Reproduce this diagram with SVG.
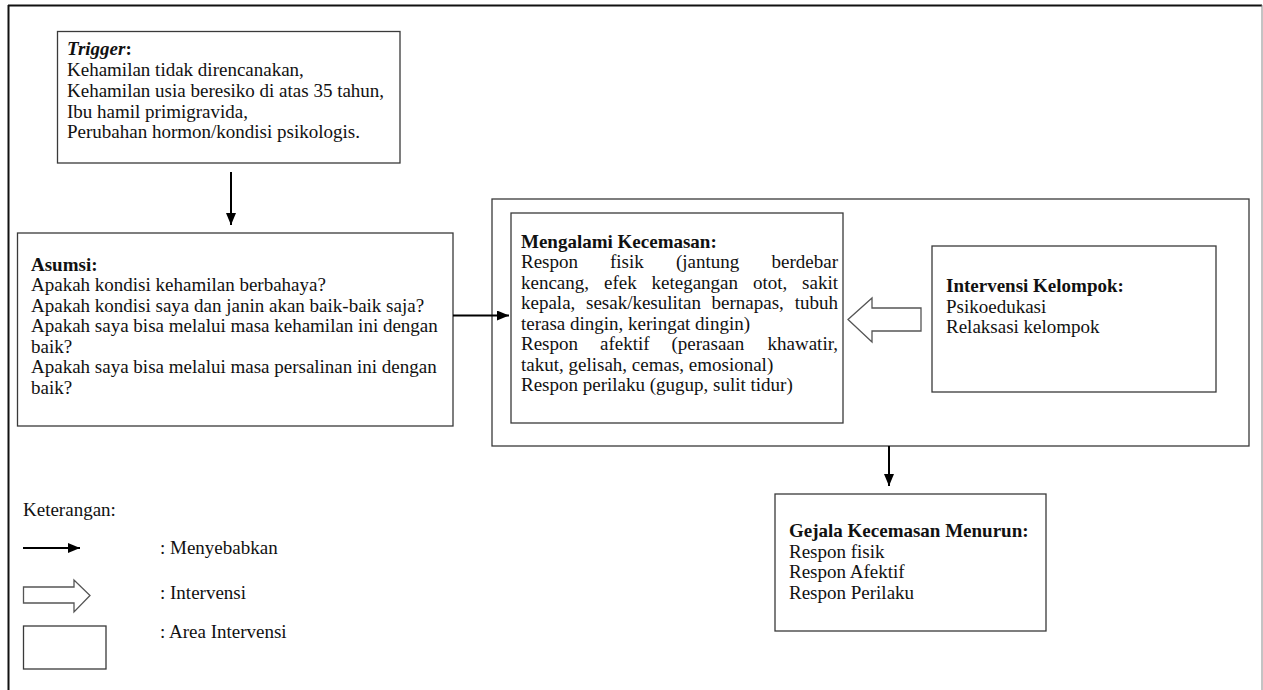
<svg xmlns="http://www.w3.org/2000/svg" width="1263" height="690" viewBox="0 0 1263 690">
<style>
text{font-family:"Liberation Serif","Times New Roman",serif;font-size:19px;fill:#111}
.b{font-weight:bold}
.bi{font-weight:bold;font-style:italic}
.box{fill:#fff;stroke:#3a3a3a;stroke-width:1.3}
.conn{stroke:#000;stroke-width:2;fill:none}
.hollow{fill:#fff;stroke:#555;stroke-width:1.3;stroke-linejoin:miter}
</style>
<defs>
<marker id="ah" viewBox="0 0 12 10" refX="12" refY="5" markerWidth="12" markerHeight="10" markerUnits="userSpaceOnUse" orient="auto">
<path d="M0,0 L12,5 L0,10 z" fill="#000"/>
</marker>
</defs>
<rect width="1263" height="690" fill="#fff"/>
<g id="frame">
<line x1="8" y1="5.5" x2="1262" y2="5.5" stroke="#111" stroke-width="2"/>
<line x1="8.5" y1="5" x2="8.5" y2="690" stroke="#111" stroke-width="2"/>
<line x1="1262" y1="5" x2="1262" y2="690" stroke="#888" stroke-width="1"/>
</g>
<g id="area-intervensi">
<rect class="box" x="492" y="199" width="757" height="247"/>
</g>
<g id="trigger">
<rect class="box" x="57.5" y="31.5" width="342.5" height="131.5"/>
<text x="67" y="55"><tspan class="bi">Trigger</tspan><tspan class="b">:</tspan></text>
<text x="67" y="76">Kehamilan tidak direncanakan,</text>
<text x="67" y="96.8">Kehamilan usia beresiko di atas 35 tahun,</text>
<text x="67" y="117.6">Ibu hamil primigravida,</text>
<text x="67" y="138.4">Perubahan hormon/kondisi psikologis.</text>
</g>
<g id="asumsi">
<rect class="box" x="17.5" y="233" width="435.5" height="193"/>
<text x="31" y="270.5" class="b">Asumsi:</text>
<text x="31" y="291">Apakah kondisi kehamilan berbahaya?</text>
<text x="31" y="311.5">Apakah kondisi saya dan janin akan baik-baik saja?</text>
<text x="31" y="332">Apakah saya bisa melalui masa kehamilan ini dengan</text>
<text x="31" y="352.5">baik?</text>
<text x="31" y="373">Apakah saya bisa melalui masa persalinan ini dengan</text>
<text x="31" y="393.5">baik?</text>
</g>
<g id="mengalami-kecemasan">
<rect class="box" x="511" y="213" width="332" height="210"/>
<text x="521" y="247.5" class="b">Mengalami Kecemasan:</text>
<text y="268"><tspan x="521">Respon</tspan><tspan x="610">fisik</tspan><tspan x="676">(jantung</tspan><tspan x="838" text-anchor="end">berdebar</tspan></text>
<text y="288.5"><tspan x="521">kencang,</tspan><tspan x="604">efek</tspan><tspan x="651.5">ketegangan</tspan><tspan x="753">otot,</tspan><tspan x="838" text-anchor="end">sakit</tspan></text>
<text y="309"><tspan x="521">kepala,</tspan><tspan x="586">sesak/kesulitan</tspan><tspan x="711.5">bernapas,</tspan><tspan x="838" text-anchor="end">tubuh</tspan></text>
<text x="521" y="329.5">terasa dingin, keringat dingin)</text>
<text y="350"><tspan x="521">Respon</tspan><tspan x="600">afektif</tspan><tspan x="671.5">(perasaan</tspan><tspan x="838" text-anchor="end">khawatir,</tspan></text>
<text x="521" y="370.5">takut, gelisah, cemas, emosional)</text>
<text x="521" y="391">Respon perilaku (gugup, sulit tidur)</text>
</g>
<g id="intervensi-kelompok">
<rect class="box" x="932" y="246" width="284" height="146"/>
<text x="946" y="292" class="b">Intervensi Kelompok:</text>
<text x="946" y="312.5">Psikoedukasi</text>
<text x="946" y="333">Relaksasi kelompok</text>
</g>
<g id="gejala-menurun">
<rect class="box" x="775" y="494" width="271" height="137"/>
<text x="789" y="537" class="b">Gejala Kecemasan Menurun:</text>
<text x="789" y="557.5">Respon fisik</text>
<text x="789" y="578">Respon Afektif</text>
<text x="789" y="598.5">Respon Perilaku</text>
</g>
<g id="connectors">
<line class="conn" x1="231" y1="172" x2="231" y2="225" marker-end="url(#ah)"/>
<line class="conn" x1="453" y1="315.5" x2="509" y2="315.5" marker-end="url(#ah)"/>
<line class="conn" x1="889" y1="446" x2="889" y2="486" marker-end="url(#ah)"/>
<polygon class="hollow" points="848,319.5 872,298 872,308 921,308 921,331 872,331 872,342"/>
</g>
<g id="legend">
<text x="23" y="516">Keterangan:</text>
<line class="conn" x1="23" y1="548" x2="80" y2="548" marker-end="url(#ah)"/>
<text x="160" y="554">: Menyebabkan</text>
<polygon class="hollow" points="23.5,587 74,587 74,580 90,595.5 74,612 74,603 23.5,603"/>
<text x="160" y="599">: Intervensi</text>
<rect class="box" x="23.5" y="626" width="82.5" height="43"/>
<text x="160" y="638">: Area Intervensi</text>
</g>
</svg>
